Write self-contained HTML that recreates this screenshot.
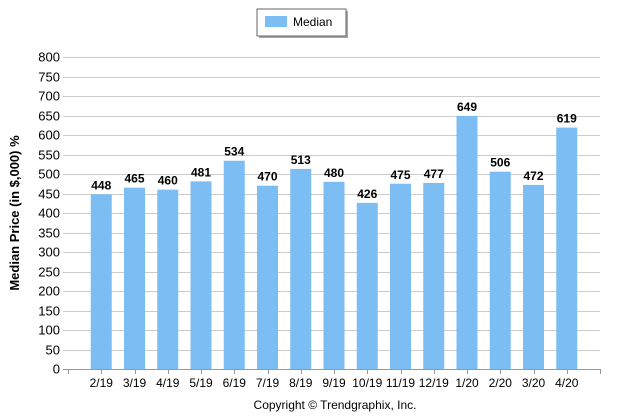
<!DOCTYPE html>
<html><head><meta charset="utf-8"><style>
body{margin:0;background:#fff;}
svg{display:block;font-family:"Liberation Sans",Arial,sans-serif;}
</style></head><body>
<svg id="chart" width="623" height="419">
<g id="legend">
<rect x="257" y="9" width="89" height="27" fill="#000" opacity="0.35" transform="translate(2,2)"/>
<rect x="257" y="9" width="89" height="27" fill="#fff" stroke="#666"/>
<rect x="265" y="16" width="22" height="11" fill="#7cbdf4"/>
<text x="293" y="26" font-size="12" fill="#000">Median</text>
</g>
<g id="grid"></g><g id="bars"></g><g id="axes"></g>
<text transform="translate(19,213) rotate(-90)" text-anchor="middle" font-size="13" font-weight="bold">Median Price (in $,000) %</text>
<text x="335" y="409" text-anchor="middle" font-size="12">Copyright © Trendgraphix, Inc.</text>
</svg>
<script>
const categories=["2/19","3/19","4/19","5/19","6/19","7/19","8/19","9/19","10/19","11/19","12/19","1/20","2/20","3/20","4/20"];
const values=[448,465,460,481,534,470,513,480,426,475,477,649,506,472,619];
const yTicks=[0,50,100,150,200,250,300,350,400,450,500,550,600,650,700,750,800];
const NS="http://www.w3.org/2000/svg";
const x0=68,x1=600,yBase=369,yTop=57,yMax=800,slot=(x1-x0)/16;
const yS=v=>yBase-(v/yMax)*(yBase-yTop);
const xS=i=>x0+slot*(i+1);
function mk(t,a,p){const e=document.createElementNS(NS,t);for(const k in a)e.setAttribute(k,a[k]);p.appendChild(e);return e;}
const grid=document.getElementById('grid'),bars=document.getElementById('bars'),axes=document.getElementById('axes');
yTicks.forEach(v=>{
 const y=Math.round(yS(v))+0.5;
 const l=mk('line',{x1:x0-5,x2:x1,y1:y,y2:y,stroke:v===0?'#999':'#ccc'},grid);
 
 
 const t=mk('text',{x:60,y:y+4,'text-anchor':'end','font-size':'13'},axes);
 t.textContent=v;
 
 
});
for(let i=-1;i<categories.length+1;i++){
 const x=Math.round(xS(i))+0.5;
 mk('line',{x1:x,x2:x,y1:yBase,y2:yBase+5,stroke:'#999'},axes);
}
categories.forEach((c,i)=>{
 const cx=xS(i),v=values[i];
 const r=mk('rect',{x:cx-10.5,y:yS(v),width:21,height:yBase-yS(v),fill:'#7cbdf4'},bars);
 
 
 const t=mk('text',{x:cx,y:yS(v)-5,'text-anchor':'middle','font-size':'12','font-weight':'bold'},bars);
 t.textContent=v;
 
 
 const xl=mk('text',{x:cx,y:387,'text-anchor':'middle','font-size':'12'},axes);
 xl.textContent=c;
 
 
});
</script>
</body></html>
